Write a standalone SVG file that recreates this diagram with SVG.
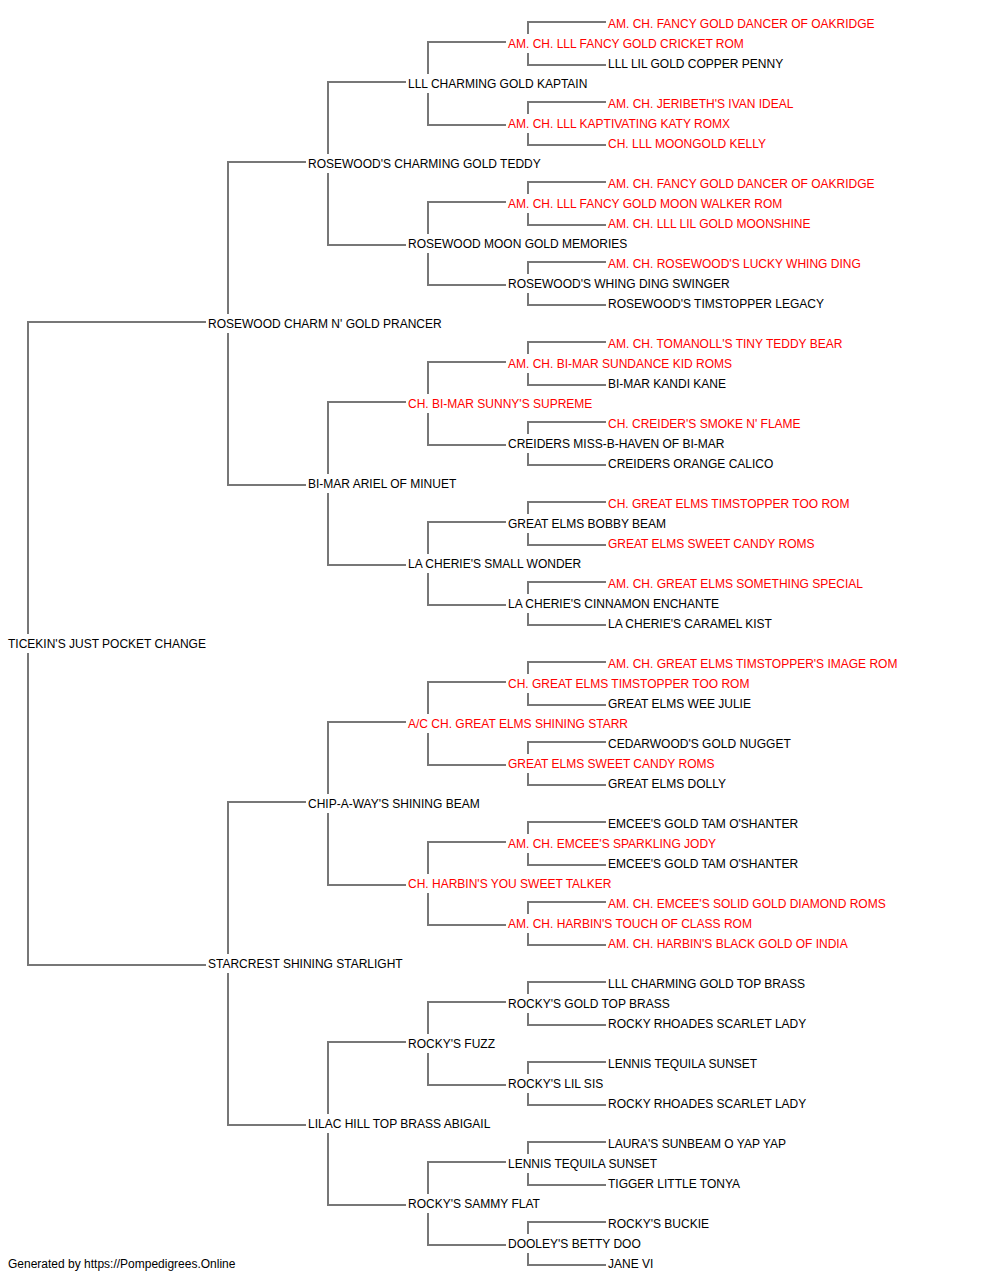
<svg xmlns="http://www.w3.org/2000/svg" width="1000" height="1280" viewBox="0 0 1000 1280">
<style>
text{font-family:"Liberation Sans",Arial,sans-serif;font-size:12px;fill:#000}
.r{fill:#ff0000}
.c{fill:none;stroke:#777;stroke-width:2}
</style>
<rect width="1000" height="1280" fill="#fff"/>
<g id="connectors" class="c">
<path d="M206,322 H28 V634 M28,653 V965 H206"/>
<path d="M306,162 H228 V314 M228,333 V485 H306"/>
<path d="M306,802 H228 V954 M228,973 V1125 H306"/>
<path d="M406,82 H328 V154 M328,173 V245 H406"/>
<path d="M406,402 H328 V474 M328,493 V565 H406"/>
<path d="M406,722 H328 V794 M328,813 V885 H406"/>
<path d="M406,1042 H328 V1114 M328,1133 V1205 H406"/>
<path d="M506,42 H428 V74 M428,93 V125 H506"/>
<path d="M506,202 H428 V234 M428,253 V285 H506"/>
<path d="M506,362 H428 V394 M428,413 V445 H506"/>
<path d="M506,522 H428 V554 M428,573 V605 H506"/>
<path d="M506,682 H428 V714 M428,733 V765 H506"/>
<path d="M506,842 H428 V874 M428,893 V925 H506"/>
<path d="M506,1002 H428 V1034 M428,1053 V1085 H506"/>
<path d="M506,1162 H428 V1194 M428,1213 V1245 H506"/>
<path d="M606,22 H528 V34 M528,53 V65 H606"/>
<path d="M606,102 H528 V114 M528,133 V145 H606"/>
<path d="M606,182 H528 V194 M528,213 V225 H606"/>
<path d="M606,262 H528 V274 M528,293 V305 H606"/>
<path d="M606,342 H528 V354 M528,373 V385 H606"/>
<path d="M606,422 H528 V434 M528,453 V465 H606"/>
<path d="M606,502 H528 V514 M528,533 V545 H606"/>
<path d="M606,582 H528 V594 M528,613 V625 H606"/>
<path d="M606,662 H528 V674 M528,693 V705 H606"/>
<path d="M606,742 H528 V754 M528,773 V785 H606"/>
<path d="M606,822 H528 V834 M528,853 V865 H606"/>
<path d="M606,902 H528 V914 M528,933 V945 H606"/>
<path d="M606,982 H528 V994 M528,1013 V1025 H606"/>
<path d="M606,1062 H528 V1074 M528,1093 V1105 H606"/>
<path d="M606,1142 H528 V1154 M528,1173 V1185 H606"/>
<path d="M606,1222 H528 V1234 M528,1253 V1265 H606"/>
</g>
<g id="n0"><text class="r" x="608" y="28">AM. CH. FANCY GOLD DANCER OF OAKRIDGE</text></g>
<g id="n1"><text class="r" x="508" y="48">AM. CH. LLL FANCY GOLD CRICKET ROM</text></g>
<g id="n2"><text x="608" y="68">LLL LIL GOLD COPPER PENNY</text></g>
<g id="n3"><text x="408" y="88">LLL CHARMING GOLD KAPTAIN</text></g>
<g id="n4"><text class="r" x="608" y="108">AM. CH. JERIBETH'S IVAN IDEAL</text></g>
<g id="n5"><text class="r" x="508" y="128">AM. CH. LLL KAPTIVATING KATY ROMX</text></g>
<g id="n6"><text class="r" x="608" y="148">CH. LLL MOONGOLD KELLY</text></g>
<g id="n7"><text x="308" y="168">ROSEWOOD'S CHARMING GOLD TEDDY</text></g>
<g id="n8"><text class="r" x="608" y="188">AM. CH. FANCY GOLD DANCER OF OAKRIDGE</text></g>
<g id="n9"><text class="r" x="508" y="208">AM. CH. LLL FANCY GOLD MOON WALKER ROM</text></g>
<g id="n10"><text class="r" x="608" y="228">AM. CH. LLL LIL GOLD MOONSHINE</text></g>
<g id="n11"><text x="408" y="248">ROSEWOOD MOON GOLD MEMORIES</text></g>
<g id="n12"><text class="r" x="608" y="268">AM. CH. ROSEWOOD'S LUCKY WHING DING</text></g>
<g id="n13"><text x="508" y="288">ROSEWOOD'S WHING DING SWINGER</text></g>
<g id="n14"><text x="608" y="308">ROSEWOOD'S TIMSTOPPER LEGACY</text></g>
<g id="n15"><text x="208" y="328">ROSEWOOD CHARM N' GOLD PRANCER</text></g>
<g id="n16"><text class="r" x="608" y="348">AM. CH. TOMANOLL'S TINY TEDDY BEAR</text></g>
<g id="n17"><text class="r" x="508" y="368">AM. CH. BI-MAR SUNDANCE KID ROMS</text></g>
<g id="n18"><text x="608" y="388">BI-MAR KANDI KANE</text></g>
<g id="n19"><text class="r" x="408" y="408">CH. BI-MAR SUNNY'S SUPREME</text></g>
<g id="n20"><text class="r" x="608" y="428">CH. CREIDER'S SMOKE N' FLAME</text></g>
<g id="n21"><text x="508" y="448">CREIDERS MISS-B-HAVEN OF BI-MAR</text></g>
<g id="n22"><text x="608" y="468">CREIDERS ORANGE CALICO</text></g>
<g id="n23"><text x="308" y="488">BI-MAR ARIEL OF MINUET</text></g>
<g id="n24"><text class="r" x="608" y="508">CH. GREAT ELMS TIMSTOPPER TOO ROM</text></g>
<g id="n25"><text x="508" y="528">GREAT ELMS BOBBY BEAM</text></g>
<g id="n26"><text class="r" x="608" y="548">GREAT ELMS SWEET CANDY ROMS</text></g>
<g id="n27"><text x="408" y="568">LA CHERIE'S SMALL WONDER</text></g>
<g id="n28"><text class="r" x="608" y="588">AM. CH. GREAT ELMS SOMETHING SPECIAL</text></g>
<g id="n29"><text x="508" y="608">LA CHERIE'S CINNAMON ENCHANTE</text></g>
<g id="n30"><text x="608" y="628">LA CHERIE'S CARAMEL KIST</text></g>
<g id="n31"><text x="8" y="648">TICEKIN'S JUST POCKET CHANGE</text></g>
<g id="n32"><text class="r" x="608" y="668">AM. CH. GREAT ELMS TIMSTOPPER'S IMAGE ROM</text></g>
<g id="n33"><text class="r" x="508" y="688">CH. GREAT ELMS TIMSTOPPER TOO ROM</text></g>
<g id="n34"><text x="608" y="708">GREAT ELMS WEE JULIE</text></g>
<g id="n35"><text class="r" x="408" y="728">A/C CH. GREAT ELMS SHINING STARR</text></g>
<g id="n36"><text x="608" y="748">CEDARWOOD'S GOLD NUGGET</text></g>
<g id="n37"><text class="r" x="508" y="768">GREAT ELMS SWEET CANDY ROMS</text></g>
<g id="n38"><text x="608" y="788">GREAT ELMS DOLLY</text></g>
<g id="n39"><text x="308" y="808">CHIP-A-WAY'S SHINING BEAM</text></g>
<g id="n40"><text x="608" y="828">EMCEE'S GOLD TAM O'SHANTER</text></g>
<g id="n41"><text class="r" x="508" y="848">AM. CH. EMCEE'S SPARKLING JODY</text></g>
<g id="n42"><text x="608" y="868">EMCEE'S GOLD TAM O'SHANTER</text></g>
<g id="n43"><text class="r" x="408" y="888">CH. HARBIN'S YOU SWEET TALKER</text></g>
<g id="n44"><text class="r" x="608" y="908">AM. CH. EMCEE'S SOLID GOLD DIAMOND ROMS</text></g>
<g id="n45"><text class="r" x="508" y="928">AM. CH. HARBIN'S TOUCH OF CLASS ROM</text></g>
<g id="n46"><text class="r" x="608" y="948">AM. CH. HARBIN'S BLACK GOLD OF INDIA</text></g>
<g id="n47"><text x="208" y="968">STARCREST SHINING STARLIGHT</text></g>
<g id="n48"><text x="608" y="988">LLL CHARMING GOLD TOP BRASS</text></g>
<g id="n49"><text x="508" y="1008">ROCKY'S GOLD TOP BRASS</text></g>
<g id="n50"><text x="608" y="1028">ROCKY RHOADES SCARLET LADY</text></g>
<g id="n51"><text x="408" y="1048">ROCKY'S FUZZ</text></g>
<g id="n52"><text x="608" y="1068">LENNIS TEQUILA SUNSET</text></g>
<g id="n53"><text x="508" y="1088">ROCKY'S LIL SIS</text></g>
<g id="n54"><text x="608" y="1108">ROCKY RHOADES SCARLET LADY</text></g>
<g id="n55"><text x="308" y="1128">LILAC HILL TOP BRASS ABIGAIL</text></g>
<g id="n56"><text x="608" y="1148">LAURA'S SUNBEAM O YAP YAP</text></g>
<g id="n57"><text x="508" y="1168">LENNIS TEQUILA SUNSET</text></g>
<g id="n58"><text x="608" y="1188">TIGGER LITTLE TONYA</text></g>
<g id="n59"><text x="408" y="1208">ROCKY'S SAMMY FLAT</text></g>
<g id="n60"><text x="608" y="1228">ROCKY'S BUCKIE</text></g>
<g id="n61"><text x="508" y="1248">DOOLEY'S BETTY DOO</text></g>
<g id="n62"><text x="608" y="1268">JANE VI</text></g>
<g id="footer"><text x="8" y="1268">Generated by https://Pompedigrees.Online</text></g>
</svg>
